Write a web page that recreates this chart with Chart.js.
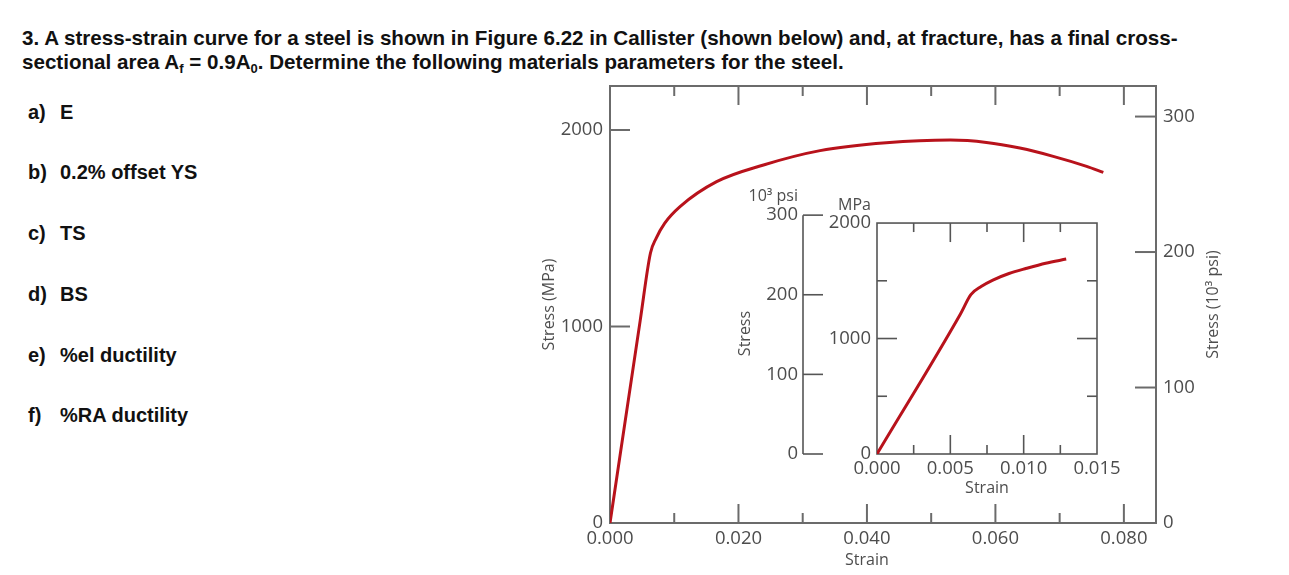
<!DOCTYPE html>
<html>
<head>
<meta charset="utf-8">
<script src="https://cdn.jsdelivr.net/npm/chart.js@4.4.1/dist/chart.umd.min.js"></script>
<style>
body{margin:0;background:#fff;width:1289px;height:575px;overflow:hidden;position:relative;font-family:'Liberation Sans',Arial,sans-serif}
.q{position:absolute;left:22px;top:26px;font-weight:bold;font-size:20.6px;line-height:24px;color:#111;white-space:nowrap}
sub{font-size:13px;line-height:0;vertical-align:-4px}
.item{position:absolute;left:28px;font-weight:bold;font-size:20px;line-height:22px;color:#111;white-space:nowrap}
.item span{position:absolute;left:32px}
#main{position:absolute;left:530px;top:80px}
#inset{position:absolute;left:730px;top:180px}
</style>
</head>
<body>
<div class="q">3. A stress-strain curve for a steel is shown in Figure 6.22 in Callister (shown below) and, at fracture, has a final cross-<br>sectional area A<sub>f</sub> = 0.9A<sub>0</sub>. Determine the following materials parameters for the steel.</div>
<div class="item" style="top:101px">a)<span>E</span></div>
<div class="item" style="top:161px">b)<span>0.2% offset YS</span></div>
<div class="item" style="top:222px">c)<span>TS</span></div>
<div class="item" style="top:283px">d)<span>BS</span></div>
<div class="item" style="top:344px">e)<span>%el ductility</span></div>
<div class="item" style="top:404px">f)<span>%RA ductility</span></div>
<canvas id="main" width="759" height="495"></canvas>
<canvas id="inset" width="400" height="330"></canvas>
<script>
// full curve (strain, MPa)
const mainStrain = [0, 0.0047, 0.0063, 0.0072, 0.0085, 0.0109, 0.0166, 0.0239, 0.0327, 0.0430, 0.0530, 0.0586, 0.0638, 0.0690, 0.0742, 0.0768];
const mainStress = [0, 1030, 1374, 1450, 1525, 1610, 1737, 1822, 1895, 1935, 1949, 1937, 1908, 1866, 1815, 1784];
// inset, early part of the curve
const insetStrain = [0, 0.0057, 0.0064, 0.0071, 0.0079, 0.0090, 0.0102, 0.0115, 0.0129];
const insetStress = [0, 1215, 1380, 1450, 1506, 1563, 1608, 1652, 1688];

const strainLabels = [0, 0.02, 0.04, 0.06, 0.08];
const strainMinor = [0.01, 0.03, 0.05, 0.07];
const mpaLabels = [0, 1000, 2000];
const ksiLabels = [0, 100, 200, 300];
const insetStrainLabels = [0, 0.005, 0.010, 0.015];
const insetStrainMinor = [0.0025, 0.0075, 0.0125];
const insetMpaLabels = [0, 1000, 2000];
const insetMpaMinor = [500, 1500];
const insetKsiLabels = [0, 100, 200, 300];

const MPA_PER_KSI = 6.895;
const RED = '#b8121b';
const AXIS = '#6b6b6b';
const TXT = '#4d4d4d';
const FONT = "'Open Sans', sans-serif";

function fixedTicks(values) {
    return scale => { scale.ticks = values.map(v => ({ value: v })); };
}
function fixSize(prop, size) {
    return scale => {
        scale[prop] = size;
        scale.paddingTop = 0; scale.paddingBottom = 0;
        scale.paddingLeft = 0; scale.paddingRight = 0;
    };
}
function tick(ctx, x1, y1, x2, y2) {
    ctx.beginPath();
    ctx.moveTo(x1, y1);
    ctx.lineTo(x2, y2);
    ctx.stroke();
}
const tickFont = { family: FONT, size: 18.5 };
const titleFont = { family: FONT, size: 16 };
const noGrid = { display: false, drawTicks: false };

const mainAxes = {
    id: 'mainAxes',
    beforeDatasetsDraw(chart) {
        const { ctx, chartArea: a, scales: { x, y, y2 } } = chart;
        ctx.save();
        ctx.strokeStyle = AXIS;
        ctx.lineWidth = 2;
        ctx.strokeRect(a.left, a.top, a.right - a.left, a.bottom - a.top);
        strainLabels.slice(1).forEach(v => {
            const px = x.getPixelForValue(v);
            tick(ctx, px, a.bottom, px, a.bottom - 19);
            tick(ctx, px, a.top, px, a.top + 19);
        });
        strainMinor.forEach(v => {
            const px = x.getPixelForValue(v);
            tick(ctx, px, a.bottom, px, a.bottom - 10);
            tick(ctx, px, a.top, px, a.top + 10);
        });
        mpaLabels.slice(1).forEach(v => {
            const py = y.getPixelForValue(v);
            tick(ctx, a.left, py, a.left + 20, py);
        });
        ksiLabels.slice(1).forEach(v => {
            const py = y2.getPixelForValue(v);
            tick(ctx, a.right, py, a.right - 21, py);
        });
        ctx.fillStyle = TXT;
        ctx.font = '16px ' + FONT;
        ctx.textAlign = 'center';
        ctx.textBaseline = 'middle';
        ctx.fillText('Strain', x.getPixelForValue(0.04), a.bottom + 37);
        ctx.translate(a.right + 57, (a.top + a.bottom) / 2);
        ctx.rotate(-Math.PI / 2);
        ctx.fillText('Stress (10³ psi)', 0, 0);
        ctx.restore();
    }
};

const insetAxes = {
    id: 'insetAxes',
    beforeDatasetsDraw(chart) {
        const { ctx, scales: { x, y, yk } } = chart;
        const l = x.getPixelForValue(0), r = x.getPixelForValue(0.015);
        const b = y.getPixelForValue(0), t = y.getPixelForValue(2000);
        ctx.save();
        ctx.strokeStyle = '#555';
        ctx.lineWidth = 1.6;
        ctx.strokeRect(l, t, r - l, b - t);
        insetStrainLabels.slice(1, -1).forEach(v => {
            const px = x.getPixelForValue(v);
            tick(ctx, px, b, px, b - 19);
            tick(ctx, px, t, px, t + 19);
        });
        insetStrainMinor.forEach(v => {
            const px = x.getPixelForValue(v);
            tick(ctx, px, b, px, b - 9);
            tick(ctx, px, t, px, t + 9);
        });
        insetMpaLabels.slice(1, -1).forEach(v => {
            const py = y.getPixelForValue(v);
            tick(ctx, l, py, l + 20, py);
            tick(ctx, r, py, r - 20, py);
        });
        insetMpaMinor.forEach(v => {
            const py = y.getPixelForValue(v);
            tick(ctx, l, py, l + 10, py);
            tick(ctx, r, py, r - 10, py);
        });
        // psi axis
        const kx = yk.right;
        tick(ctx, kx, yk.getPixelForValue(0), kx, yk.getPixelForValue(300));
        insetKsiLabels.forEach(v => {
            const py = yk.getPixelForValue(v);
            tick(ctx, kx, py, kx + 20, py);
        });
        ctx.fillStyle = TXT;
        ctx.font = '16px ' + FONT;
        ctx.textAlign = 'right';
        ctx.textBaseline = 'middle';
        ctx.fillText('10³ psi', kx - 5, yk.getPixelForValue(300) - 19);
        ctx.fillText('MPa', l - 6, t - 18);
        ctx.restore();
    }
};

new Chart(document.getElementById('main'), {
    type: 'scatter',
    data: {
        datasets: [{
            data: mainStrain.map((s, i) => ({ x: s, y: mainStress[i] })),
            showLine: true,
            borderColor: RED,
            borderWidth: 3,
            pointRadius: 0,
            cubicInterpolationMode: 'monotone'
        }]
    },
    options: {
        responsive: false,
        animation: false,
        layout: { padding: { top: 6, left: 0, right: 0, bottom: 0 } },
        plugins: { legend: { display: false }, tooltip: { enabled: false } },
        scales: {
            x: {
                type: 'linear', position: 'bottom', min: 0, max: 0.085,
                grid: noGrid, border: { display: false },
                afterBuildTicks: fixedTicks(strainLabels),
                afterFit: fixSize('height', 52),
                ticks: { autoSkip: false, maxRotation: 0, padding: 5, color: TXT, font: tickFont,
                    callback: v => v.toFixed(3) }
            },
            y: {
                type: 'linear', position: 'left', min: 0, max: 2224,
                grid: noGrid, border: { display: false },
                afterBuildTicks: fixedTicks(mpaLabels),
                afterFit: fixSize('width', 80),
                ticks: { padding: 7, color: TXT, font: tickFont, callback: v => String(v) },
                title: { display: true, text: 'Stress (MPa)', color: TXT, font: titleFont, padding: { top: 10, bottom: 0 } }
            },
            y2: {
                type: 'linear', position: 'right', min: 0, max: 2224 / MPA_PER_KSI,
                grid: noGrid, border: { display: false },
                afterBuildTicks: fixedTicks(ksiLabels),
                afterFit: fixSize('width', 133),
                ticks: { padding: 7, color: TXT, font: tickFont, callback: v => String(v) }
            }
        }
    },
    plugins: [mainAxes]
});

new Chart(document.getElementById('inset'), {
    type: 'scatter',
    data: {
        datasets: [{
            data: insetStrain.map((s, i) => ({ x: s, y: insetStress[i] })),
            showLine: true,
            borderColor: RED,
            borderWidth: 3,
            pointRadius: 0,
            cubicInterpolationMode: 'monotone'
        }]
    },
    options: {
        responsive: false,
        animation: false,
        layout: { padding: { top: 33, left: 0, right: 33, bottom: 0 } },
        plugins: { legend: { display: false }, tooltip: { enabled: false } },
        scales: {
            x: {
                type: 'linear', position: 'bottom', min: 0, max: 0.015,
                grid: noGrid, border: { display: false },
                afterBuildTicks: fixedTicks(insetStrainLabels),
                afterFit: fixSize('height', 56),
                ticks: { autoSkip: false, maxRotation: 0, padding: 4, color: TXT, font: tickFont,
                    callback: v => v.toFixed(3) },
                title: { display: true, text: 'Strain', color: TXT, font: titleFont, padding: { top: 0, bottom: 12 } }
            },
            y: {
                type: 'linear', position: 'left', weight: 0, min: 0, max: 2087,
                grid: noGrid, border: { display: false },
                afterBuildTicks: fixedTicks(insetMpaLabels),
                afterFit: fixSize('width', 74),
                ticks: { padding: 6, color: TXT, font: tickFont, callback: v => String(v) }
            },
            yk: {
                type: 'linear', position: 'left', weight: 1, min: 0, max: 2087 / MPA_PER_KSI,
                grid: noGrid, border: { display: false },
                afterBuildTicks: fixedTicks(insetKsiLabels),
                afterFit: fixSize('width', 73),
                ticks: { padding: 5, color: TXT, font: tickFont, callback: v => String(v) },
                title: { display: true, text: 'Stress', color: TXT, font: titleFont, padding: { top: 6, bottom: 0 } }
            }
        }
    },
    plugins: [insetAxes]
});
</script>
</body>
</html>
